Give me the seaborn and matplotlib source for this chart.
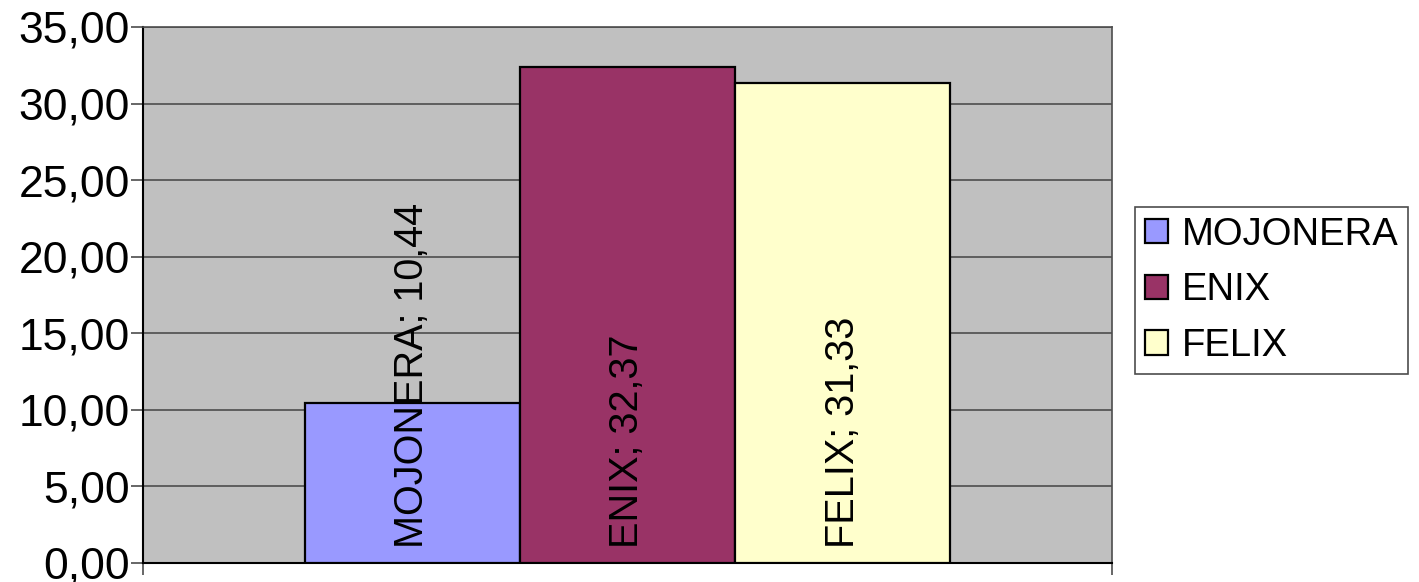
import pandas as pd
import numpy as np
import matplotlib
matplotlib.use("Agg")
import matplotlib.pyplot as plt
from matplotlib.ticker import FuncFormatter
import seaborn as sns

# data
series = ["MOJONERA", "ENIX", "FELIX"]
values = [10.44, 32.37, 31.33]
colors = ["#9999FF", "#993366", "#FFFFCC"]
y_ticks = [0, 5, 10, 15, 20, 25, 30, 35]

sns.set_theme(style="white")
plt.rcParams["font.family"] = ["Liberation Sans", "DejaVu Sans"]
plt.rcParams["text.color"] = "black"
plt.rcParams["ytick.color"] = "black"
plt.rcParams["ytick.labelcolor"] = "black"

df = pd.DataFrame({"cat": [""] * len(series), "serie": series, "valor": values})

fig = plt.figure(figsize=(14.19, 5.82), dpi=100)
ax = fig.add_axes([143 / 1419, 1 - 563 / 582, (1112 - 143) / 1419, (563 - 27) / 582])
ax.set_facecolor("#C0C0C0")

sns.barplot(data=df, x="cat", y="valor", hue="serie", hue_order=series,
            palette=colors, saturation=1, width=0.666, dodge=True,
            edgecolor="black", linewidth=1.6, errorbar=None, ax=ax, zorder=3)

# etiquetas rotadas dentro de cada barra
for cont, name, val in zip(ax.containers, series, values):
    bar = cont[0]
    xc = bar.get_x() + bar.get_width() / 2
    ax.annotate(f"{name}; {val:.2f}".replace(".", ","), (xc, 0),
                xytext=(0, 11), textcoords="offset points",
                rotation=90, ha="center", va="bottom", fontsize=28.5,
                color="black", zorder=5)

ax.set_xlim(-0.5, 0.5)
ax.set_ylim(0, 35)
ax.set_yticks(y_ticks)
ax.yaxis.set_major_formatter(FuncFormatter(lambda v, p: f"{v:.2f}".replace(".", ",")))
ax.grid(axis="y", color="#4d4d4d", linewidth=1.2, zorder=1)
ax.set_axisbelow(True)
ax.tick_params(axis="y", direction="out", length=8.5, width=1.2, color="#4d4d4d",
               labelsize=32, labelcolor="black", pad=1, left=True)
ax.set_xticks([])
ax.set_xticks([-0.5, 0.5], minor=True)
ax.tick_params(axis="x", which="minor", direction="out", length=8.5, width=1.2,
               color="#4d4d4d", bottom=True)
ax.set_xlabel("")
ax.set_ylabel("")

for side in ["left", "bottom"]:
    ax.spines[side].set_color("black")
    ax.spines[side].set_linewidth(1.5)
for side in ["top", "right"]:
    ax.spines[side].set_color("#4d4d4d")
    ax.spines[side].set_linewidth(1.2)

handles, labels = ax.get_legend_handles_labels()
if ax.legend_:
    ax.legend_.remove()
leg = fig.legend(handles, labels, loc="upper left",
                 bbox_to_anchor=(1135 / 1419, 1 - 207 / 582),
                 bbox_transform=fig.transFigure, fontsize=27.5, frameon=True,
                 fancybox=False, edgecolor="#4d4d4d", facecolor="white",
                 framealpha=1, handlelength=0.62, handleheight=0.62,
                 handletextpad=0.35, labelspacing=0.52, borderpad=0.25,
                 borderaxespad=0)
leg.get_frame().set_linewidth(1.2)
for t in leg.get_texts():
    t.set_color("black")

fig.savefig("out.png", dpi=100)
